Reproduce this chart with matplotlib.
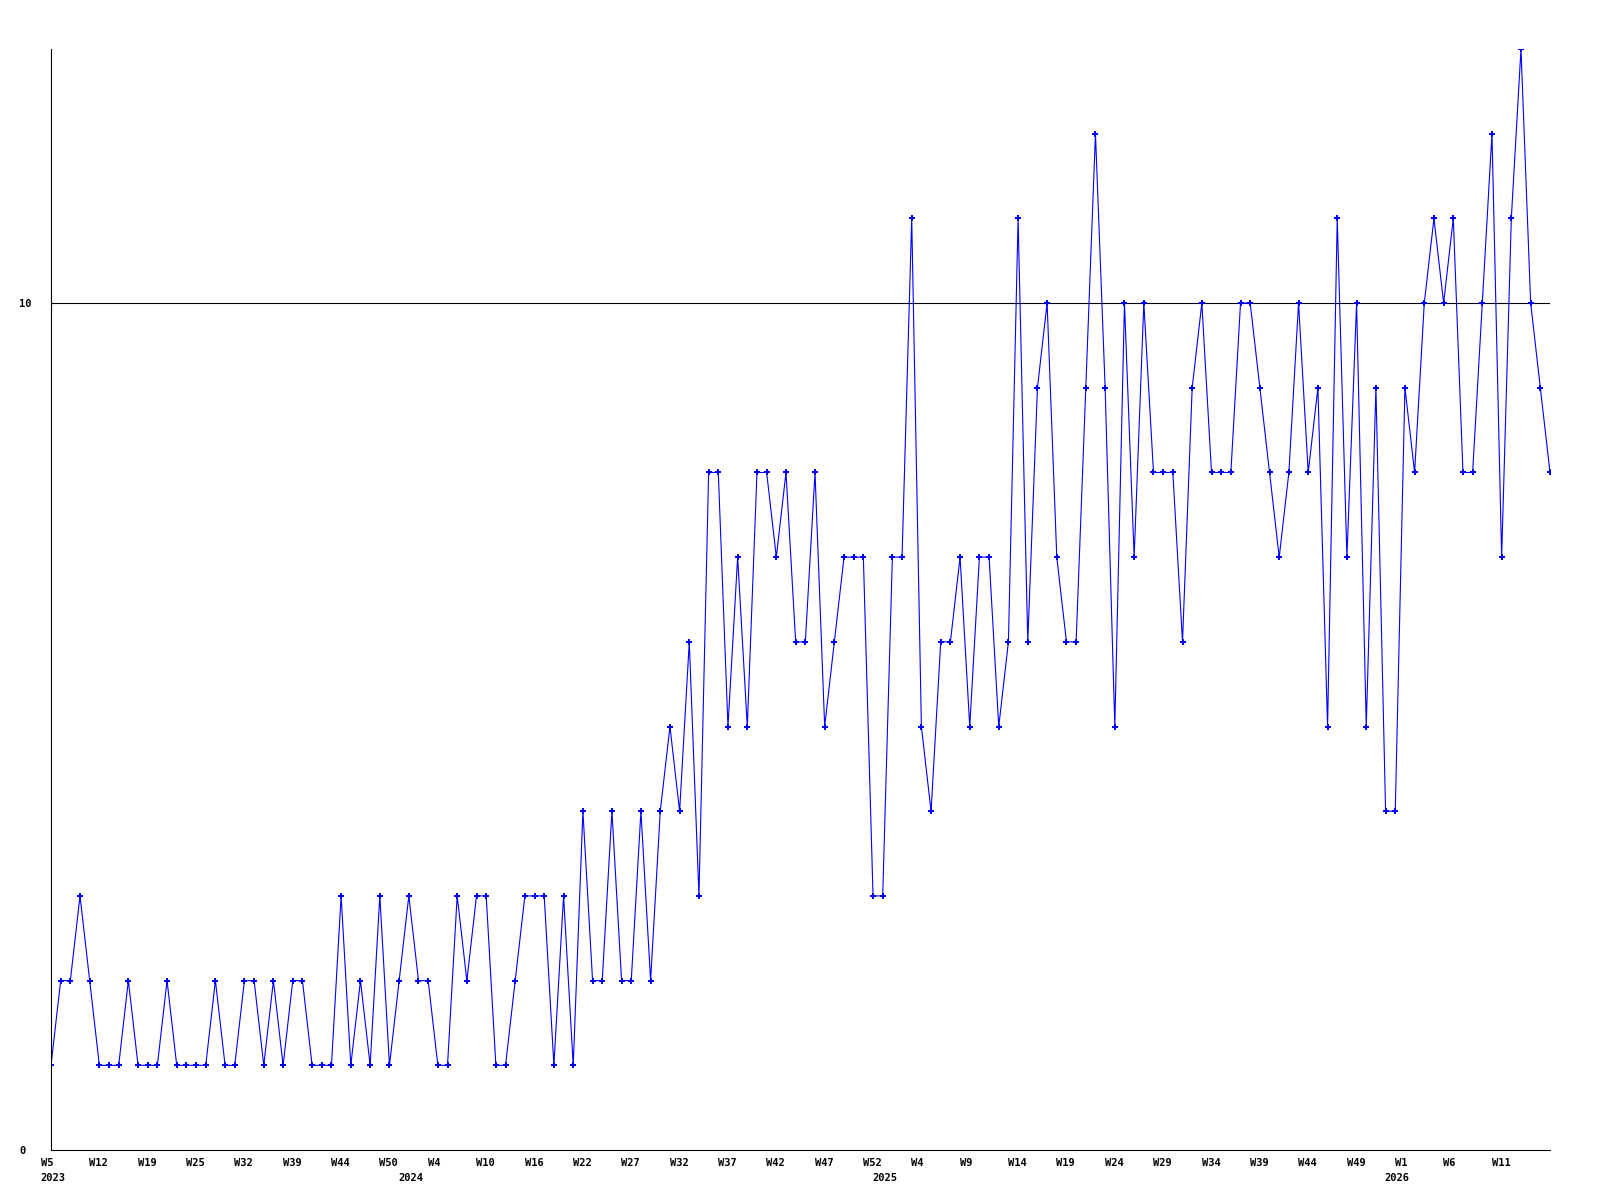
import numpy as np
from matplotlib import pyplot as plt
from matplotlib.transforms import ScaledTranslation

# weekly counts, one per point
counts = [1, 2, 2, 3, 2, 1, 1, 1, 2, 1, 1, 1, 2, 1, 1, 1, 1, 2, 1, 1,
          2, 2, 1, 2, 1, 2, 2, 1, 1, 1, 3, 1, 2, 1, 3, 1, 2, 3, 2, 2,
          1, 1, 3, 2, 3, 3, 1, 1, 2, 3, 3, 3, 1, 3, 1, 4, 2, 2, 4, 2,
          2, 4, 2, 4, 5, 4, 6, 3, 8, 8, 5, 7, 5, 8, 8, 7, 8, 6, 6, 8,
          5, 6, 7, 7, 7, 3, 3, 7, 7, 11, 5, 4, 6, 6, 7, 5, 7, 7, 5, 6,
          11, 6, 9, 10, 7, 6, 6, 9, 12, 9, 5, 10, 7, 10, 8, 8, 8, 6, 9, 10,
          8, 8, 8, 10, 10, 9, 8, 7, 8, 10, 8, 9, 5, 11, 7, 10, 5, 9, 4, 4,
          9, 8, 10, 11, 10, 11, 8, 8, 10, 12, 7, 11, 13, 10, 9, 8]

# a week label on every 5th point
week_labels = ['W5', 'W12', 'W19', 'W25', 'W32', 'W39', 'W44', 'W50',
               'W4', 'W10', 'W16', 'W22', 'W27', 'W32', 'W37', 'W42', 'W47', 'W52',
               'W4', 'W9', 'W14', 'W19', 'W24', 'W29', 'W34', 'W39', 'W44', 'W49',
               'W1', 'W6', 'W11']

years = ['2023', '2024', '2025', '2026']
year_idx = [0, 37, 86, 139]

font = dict(family='DejaVu Sans Mono', fontweight='bold', fontsize=7.5)

x = np.arange(len(counts))

fig = plt.figure(figsize=(16, 12), dpi=100)
ax = fig.add_axes([51/1600, 1 - 1150/1200, 1499/1600, 1101/1200])

ax.axhline(10, color='black', lw=0.8, zorder=1)
ax.plot(x, counts, color='#0000ff', lw=0.8, marker='P', markersize=4,
        markeredgewidth=0, zorder=2)

ax.set_xlim(0, len(counts) - 1)
ax.set_ylim(0, max(counts))

for s in ['top', 'right']:
	ax.spines[s].set_visible(False)
for s in ['left', 'bottom']:
	ax.spines[s].set_linewidth(0.8)
	ax.spines[s].set_color('black')

ax.set_xticks(np.arange(0, len(counts), 5)[:len(week_labels)])
ax.set_xticklabels(week_labels, ha='left', **font)
ax.set_yticks([0, 10])
ax.set_yticklabels(['0', '10'], ha='left', **font)
ax.tick_params(axis='x', length=0, pad=6)
ax.tick_params(axis='y', length=0, pad=23)

# labels start a little left of their point
shift = ScaledTranslation(-10/100, 0, fig.dpi_scale_trans)
for lab in ax.get_xticklabels():
	lab.set_transform(lab.get_transform() + shift)

for yr, i in zip(years, year_idx):
	ax.annotate(yr, xy=(i, 0), xycoords=('data', 'axes fraction'),
	            xytext=(-7.5, -16.5), textcoords='offset points',
	            ha='left', va='top', **font)

fig.savefig('out.png', dpi=100)
